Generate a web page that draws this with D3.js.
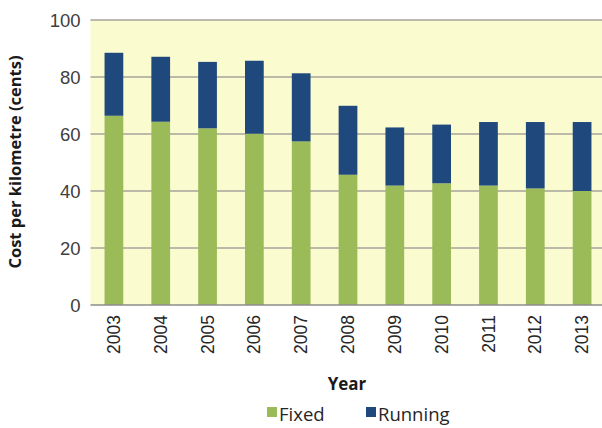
<!DOCTYPE html>
<html><head><meta charset="utf-8">
<script src="https://cdn.jsdelivr.net/npm/d3@7"></script>
<style>body{margin:0;background:#fff;}svg{display:block;font-family:"Open Sans",sans-serif;}</style>
</head><body><svg id="c" width="602" height="428"></svg>
<script>
const years = ["2003","2004","2005","2006","2007","2008","2009","2010","2011","2012","2013"];
const fixed = [66.4,64.3,62.0,60.1,57.4,45.7,41.9,42.7,41.9,40.9,40.0];
const running = [22.1,22.8,23.3,25.6,23.9,24.2,20.4,20.6,22.3,23.3,24.2];
const yTicks = [0,20,40,60,80,100];
const seriesNames = ["Fixed","Running"];
const colors = ["#9bbb59","#1f497d"];

const svg = d3.select("#c");
const x = d3.scaleBand().domain(years).range([90.5,605.5]).paddingInner(0.6).paddingOuter(0.3);
const y = d3.scaleLinear().domain([0,100]).range([305,20]);

svg.append("rect").attr("x",90.5).attr("y",y(100)).attr("width",515).attr("height",y(0)-y(100)).attr("fill","#fbfbd0");

const yAxis = d3.axisLeft(y).tickValues(yTicks).tickSize(0).tickPadding(10);
const gy = svg.append("g").attr("transform","translate(90.5,0)").call(yAxis);
gy.select(".domain").remove();
gy.selectAll("text").attr("font-size",18.5).attr("fill","#404040").attr("dy","0.34em");

svg.append("g").selectAll("line").data(yTicks.filter(d=>d>0)).join("line")
  .attr("x1",90.5).attr("x2",605.5).attr("y1",d=>y(d)).attr("y2",d=>y(d))
  .attr("stroke","#a6a39a").attr("stroke-width",1.5);

const rows = years.map((yr,i)=>({year:yr,Fixed:fixed[i],Running:running[i]}));
const stack = d3.stack().keys(seriesNames)(rows);
svg.append("g").selectAll("g").data(stack).join("g").attr("fill",(d,i)=>colors[i])
  .selectAll("rect").data(d=>d).join("rect")
  .attr("x",d=>x(d.data.year)).attr("width",x.bandwidth())
  .attr("y",d=>y(d[1])).attr("height",d=>y(d[0])-y(d[1]));

svg.append("line").attr("x1",90.5).attr("x2",605.5).attr("y1",y(0)).attr("y2",y(0)).attr("stroke","#8c8c8c").attr("stroke-width",1.5);

const xAxis = d3.axisBottom(x).tickSize(0).tickPadding(0);
const gx = svg.append("g").attr("transform",`translate(0,${y(0)})`).call(xAxis);
gx.select(".domain").remove();
gx.selectAll("text").attr("font-size",17.5).attr("fill","#262626")
  .attr("transform","rotate(-90)").attr("text-anchor","end")
  .attr("x",-10).attr("y",0).attr("dy","0.35em");

svg.append("text").attr("x",347).attr("y",390).attr("text-anchor","middle")
  .attr("font-size",17).attr("font-weight","bold").attr("fill","#1a1a1a").text("Year");

svg.append("text").attr("transform","translate(21,162) rotate(-90)").attr("text-anchor","middle")
  .attr("font-size",16.5).attr("font-weight","bold").attr("fill","#1a1a1a").text("Cost per kilometre (cents)");

const leg = svg.append("g");
const legX = [267,366];
seriesNames.forEach((n,i)=>{
  leg.append("rect").attr("x",legX[i]).attr("y",407).attr("width",10).attr("height",10).attr("fill",colors[i]);
  leg.append("text").attr("x",legX[i]+12).attr("y",421).attr("font-size",18.5).attr("fill","#262626").text(n);
});
</script></body></html>
